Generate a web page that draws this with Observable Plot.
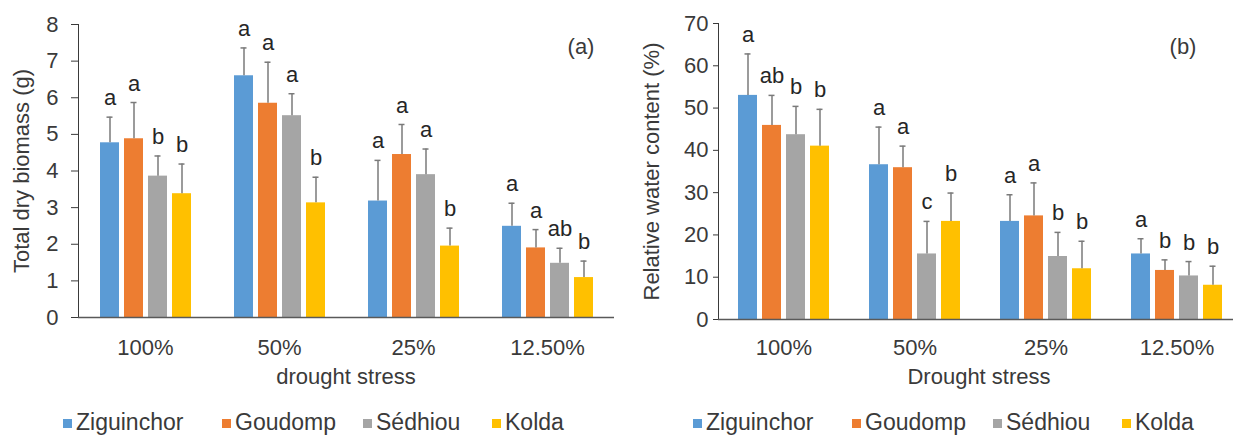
<!DOCTYPE html>
<html><head><meta charset="utf-8">
<script src="https://cdn.jsdelivr.net/npm/d3@7"></script>
<script src="https://cdn.jsdelivr.net/npm/@observablehq/plot@0.6"></script>
<style>
html,body{margin:0;padding:0;background:#fff;overflow:hidden;}
#wrap{position:relative;width:1233px;height:436px;overflow:hidden;font-family:"Liberation Sans",Arial,sans-serif;color:#3a3a3a;}
.panel{position:absolute;top:0;}
.panel svg{max-width:none !important;}
.t{position:absolute;font-size:22px;line-height:22px;transform:translate(-50%,-50%);white-space:nowrap;}
.leg{position:absolute;top:411px;font-size:23px;line-height:23px;white-space:nowrap;}
.item{position:absolute;top:0;display:flex;align-items:center;}
.sw{display:inline-block;width:9px;height:9px;margin-right:4px;margin-top:2px;}
</style></head>
<body><div id="wrap"></div>
<script>
const groups = ["100%", "50%", "25%", "12.50%"];
const sites = ["Ziguinchor", "Goudomp", "Sédhiou", "Kolda"];
const colors = ["#5B9BD5", "#ED7D31", "#A5A5A5", "#FFC000"];

// (a) Total dry biomass (g): rows = sites, columns = groups
const biomassMean = [
  [4.77, 6.60, 3.18, 2.49],
  [4.88, 5.85, 4.45, 1.90],
  [3.86, 5.51, 3.90, 1.48],
  [3.38, 3.13, 1.95, 1.09]
];
const biomassSD = [
  [0.70, 0.76, 1.11, 0.63],
  [0.99, 1.12, 0.82, 0.50],
  [0.55, 0.60, 0.70, 0.41],
  [0.81, 0.70, 0.49, 0.45]
];
const biomassLetters = [
  ["a", "a", "a", "a"],
  ["a", "a", "a", "a"],
  ["b", "a", "a", "ab"],
  ["b", "b", "b", "b"]
];
const biomassTicks = [0, 1, 2, 3, 4, 5, 6, 7, 8];

// (b) Relative water content (%)
const rwcMean = [
  [53.0, 36.6, 23.2, 15.5],
  [45.9, 35.9, 24.5, 11.6],
  [43.7, 15.5, 14.9, 10.3],
  [41.0, 23.2, 12.0, 8.1]
];
const rwcSD = [
  [9.8, 8.9, 6.3, 3.6],
  [7.1, 5.1, 7.8, 2.5],
  [6.7, 7.7, 5.7, 3.4],
  [8.7, 6.7, 6.5, 4.5]
];
const rwcLetters = [
  ["a", "a", "a", "a"],
  ["ab", "a", "a", "b"],
  ["b", "c", "b", "b"],
  ["b", "b", "b", "b"]
];
const rwcTicks = [0, 10, 20, 30, 40, 50, 60, 70];

function makeRows(mean, sd, letters) {
  const rows = [];
  sites.forEach((s, i) => groups.forEach((g, j) => rows.push({
    site: s, group: g, mean: mean[i][j], hi: mean[i][j] + sd[i][j], letter: letters[i][j]
  })));
  return rows;
}

function chart(o) {
  return Plot.plot({
    width: o.width, height: 390,
    marginLeft: o.marginLeft, marginRight: 5, marginTop: o.marginTop, marginBottom: o.marginBottom,
    style: {fontFamily: '"Liberation Sans", Arial, sans-serif', fontSize: "22px", color: "#3a3a3a", background: "transparent", overflow: "visible", maxWidth: "none"},
    fx: {domain: groups, padding: 0, label: null, axis: "bottom", tickSize: 0, tickPadding: o.fxPad},
    x: {domain: sites, paddingInner: o.xIn, paddingOuter: o.xOut, axis: null},
    y: {domain: [o.ticks[0], o.ticks[o.ticks.length - 1]], ticks: o.ticks, tickSize: o.tickSize, tickPadding: o.tickPadding,
        label: o.yLabel, labelAnchor: "center", labelOffset: o.labelOffset, labelArrow: "none", line: true},
    color: {domain: sites, range: colors},
    marks: [
      Plot.barY(o.rows, {fx: "group", x: "site", y: "mean", fill: "site"}),
      Plot.ruleY([0], {stroke: "#595959", strokeWidth: 1.3}),
      Plot.ruleX(o.rows, {fx: "group", x: "site", y1: "mean", y2: "hi", stroke: "#7a7a7a", strokeWidth: 1.5}),
      Plot.tickY(o.rows, {fx: "group", x: "site", y: "hi", stroke: "#7a7a7a", strokeWidth: 1.5, insetLeft: 6.5, insetRight: 6.5}),
      Plot.text(o.rows, {fx: "group", x: "site", y: "hi", text: "letter", dy: -19, fill: "#262626"})
    ]
  });
}

const wrap = document.getElementById("wrap");

function addPanel(left, width, plot) {
  const d = document.createElement("div");
  d.className = "panel"; d.style.left = left + "px"; d.style.width = width + "px";
  d.appendChild(plot); wrap.appendChild(d);
}
function addText(txt, x, y) {
  const d = document.createElement("div");
  d.className = "t"; d.style.left = x + "px"; d.style.top = y + "px";
  d.textContent = txt; wrap.appendChild(d);
}
function addLegend(left) {
  const leg = document.createElement("div");
  leg.className = "leg"; leg.style.left = left + "px";
  const offs = [0, 159, 300, 429];
  sites.forEach((s, i) => {
    const it = document.createElement("div");
    it.className = "item"; it.style.left = offs[i] + "px";
    const sw = document.createElement("span");
    sw.className = "sw"; sw.style.background = colors[i];
    const tx = document.createElement("span"); tx.textContent = s;
    it.appendChild(sw); it.appendChild(tx); leg.appendChild(it);
  });
  wrap.appendChild(leg);
}

addPanel(0, 620, chart({
  rows: makeRows(biomassMean, biomassSD, biomassLetters), ticks: biomassTicks,
  width: 620, marginLeft: 77, marginTop: 24, marginBottom: 73,
  xIn: 0.224, xOut: 0.857, fxPad: 22, tickSize: 7, tickPadding: 13,
  yLabel: "Total dry biomass (g)", labelOffset: 65
}));
addPanel(625, 622, chart({
  rows: makeRows(rwcMean, rwcSD, rwcLetters), ticks: rwcTicks,
  width: 622, marginLeft: 93, marginTop: 23, marginBottom: 71,
  xIn: 0.208, xOut: 0.833, fxPad: 20, tickSize: 5, tickPadding: 5,
  yLabel: "Relative water content (%)", labelOffset: 75
}));
addText("drought stress", 346, 377);
addText("Drought stress", 979, 377);
addText("(a)", 581, 47);
addText("(b)", 1183, 47);
addLegend(63);
addLegend(693);
</script>
</body></html>
